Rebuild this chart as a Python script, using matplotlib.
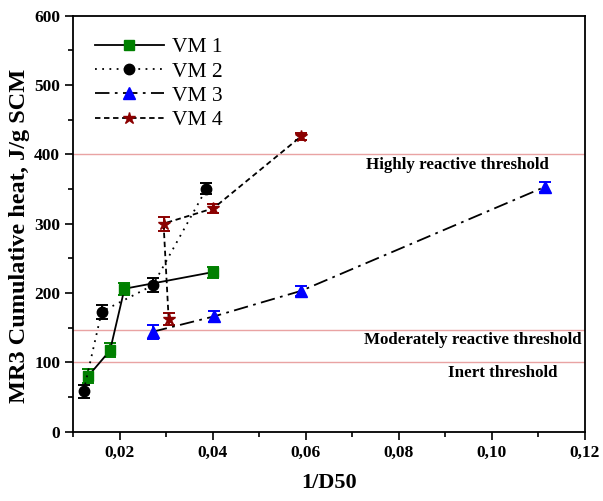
import numpy as np
import matplotlib
matplotlib.use('Agg')
import matplotlib.pyplot as plt
from matplotlib.lines import Line2D
from matplotlib.ticker import MultipleLocator, FuncFormatter

# data
vm1_x = [0.0132, 0.0179, 0.0210, 0.0400]
vm1_y = [80, 117, 206, 230]
vm1_err = [10, 10, 9, 8]

vm2_x = [0.0122, 0.0161, 0.0271, 0.0386]
vm2_y = [58, 173, 211, 350]
vm2_err = [9, 10, 10, 8]

vm3_x = [0.0271, 0.0402, 0.0590, 0.1114]
vm3_y = [144, 166, 203, 353]
vm3_err = [10, 8, 7, 7]

vm4_x = [0.0305, 0.0294, 0.0401, 0.0590]
vm4_y = [162, 300, 322, 426]
vm4_err = [9, 10, 6, 5]

thresholds = [400, 147, 100]
threshold_labels = ['Highly reactive threshold', 'Moderately reactive threshold', 'Inert threshold']
label_pos = [(0.1122, 385), (0.1193, 132), (0.1141, 85)]


def main():
   plt.rcParams['font.family'] = ['Liberation Serif', 'DejaVu Serif']
   fig = plt.figure(figsize=(6.03, 5.01), dpi=100)
   ax = fig.add_axes([0.1216, 0.1387, 0.8484, 0.83])

   for t in thresholds:
      ax.axhline(t, color='#e9a3a3', lw=1.0, zorder=1)
   for txt, (x, y) in zip(threshold_labels, label_pos):
      ax.text(x, y, txt, ha='right', va='center', fontsize=12.2, fontweight='bold')

   styles = [
      ('VM 1', vm1_x, vm1_y, vm1_err, 's', '-', 'green', 7),
      ('VM 2', vm2_x, vm2_y, vm2_err, 'o', (0, (1, 3)), 'black', 7.5),
      ('VM 3', vm3_x, vm3_y, vm3_err, '^', (0, (8, 3, 1.5, 3)), 'blue', 8),
      ('VM 4', vm4_x, vm4_y, vm4_err, '*', (0, (3, 2)), 'darkred', 9),
   ]
   handles = []
   for name, x, y, err, mk, ls, col, ms in styles:
      ax.errorbar(x, y, yerr=err, fmt=mk, ls=ls, color='black', lw=1.3, ms=ms,
                  mfc=col, mec=col, ecolor=col, capsize=4, elinewidth=1.4,
                  capthick=1.4, zorder=3)
      handles.append(Line2D([], [], marker=mk, ls=ls, color='black', lw=1.3,
                            ms=ms, mfc=col, mec=col))

   ax.set_xlim(0.01, 0.12)
   ax.set_ylim(0, 600)
   ax.xaxis.set_major_locator(MultipleLocator(0.02))
   ax.xaxis.set_minor_locator(MultipleLocator(0.01))
   ax.yaxis.set_major_locator(MultipleLocator(100))
   ax.yaxis.set_minor_locator(MultipleLocator(50))
   ax.xaxis.set_major_formatter(FuncFormatter(lambda v, p: ('%.2f' % v).replace('.', ',')))
   ax.tick_params(which='major', length=6, width=1.2, direction='out', labelsize=12.5)
   ax.tick_params(which='minor', length=3.5, width=1.2, direction='out')
   for lab in ax.get_xticklabels() + ax.get_yticklabels():
      lab.set_fontweight('bold')
   for s in ax.spines.values():
      s.set_linewidth(1.3)

   ax.set_xlabel('1/D50', fontsize=16, fontweight='bold', labelpad=9)
   ax.set_ylabel('MR3 Cumulative heat, J/g SCM', fontsize=17.5, fontweight='bold')
   ax.yaxis.set_label_coords(-0.085, 0.47)

   ax.legend(handles, [s[0] for s in styles], loc='upper left', frameon=False,
             fontsize=15.5, handlelength=3.2, labelspacing=0.2, borderaxespad=0.6,
             handletextpad=0.4)

   fig.savefig('out.png', dpi=100)


if __name__ == '__main__':
   main()
